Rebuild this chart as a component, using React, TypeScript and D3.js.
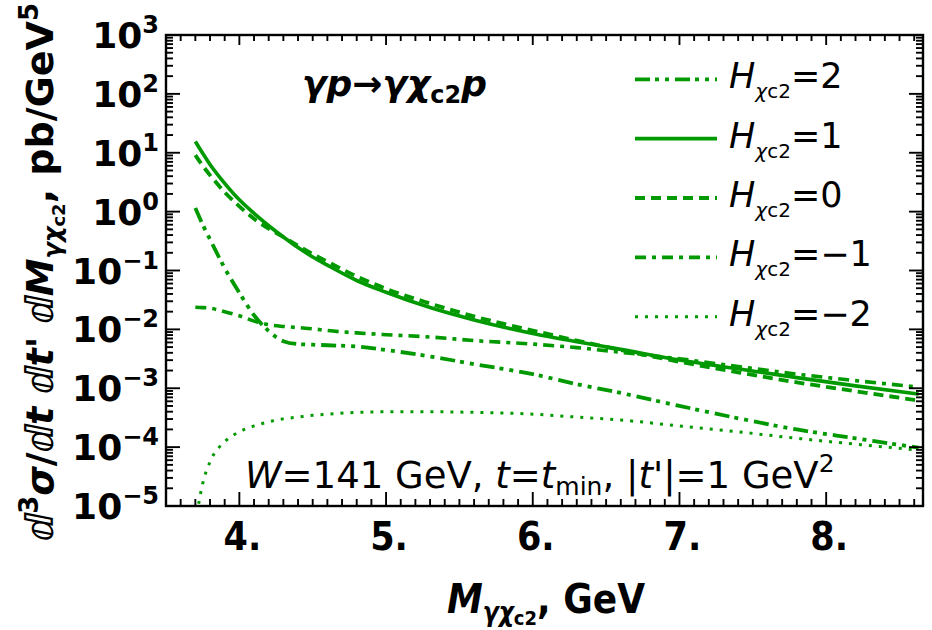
import React from 'react';
import * as d3 from 'd3';

// ---------- data ----------
const MASS = [3.7, 3.75, 3.8, 3.9, 4.0, 4.1, 4.2, 4.3, 4.4, 4.5, 4.6, 4.8, 5.0, 5.3, 5.6, 6.0, 6.3, 6.6, 7.0, 7.4, 7.8, 8.2, 8.63];
// log10 of d3sigma/dt dt' dM  (pb/GeV^5)
const LOG_H_P2 = [0.06, -0.22, -0.47, -0.96, -1.38, -1.76, -2.03, -2.2, -2.25, -2.26, -2.27, -2.29, -2.35, -2.46, -2.59, -2.76, -2.93, -3.08, -3.3, -3.51, -3.7, -3.85, -4.01];
const LOG_H_P1 = [1.19, 0.99, 0.8, 0.48, 0.2, -0.03, -0.24, -0.43, -0.61, -0.77, -0.91, -1.17, -1.37, -1.63, -1.84, -2.07, -2.21, -2.34, -2.52, -2.67, -2.82, -2.96, -3.1];
const LOG_H_0 = [0.96, 0.78, 0.62, 0.33, 0.09, -0.12, -0.29, -0.43, -0.58, -0.72, -0.85, -1.1, -1.31, -1.56, -1.78, -2.02, -2.19, -2.35, -2.55, -2.73, -2.9, -3.05, -3.21];
const LOG_H_M1 = [-1.625, -1.63, -1.64, -1.7, -1.77, -1.86, -1.92, -1.95, -1.97, -1.99, -2.02, -2.06, -2.09, -2.13, -2.19, -2.25, -2.31, -2.39, -2.5, -2.63, -2.76, -2.87, -2.98];
const LOG_H_M2 = [-5.3, -4.62, -4.25, -3.91, -3.74, -3.64, -3.57, -3.52, -3.49, -3.46, -3.44, -3.41, -3.4, -3.4, -3.41, -3.44, -3.49, -3.54, -3.64, -3.74, -3.85, -3.95, -4.05];

const HELICITY_LABELS = ['2', '1', '0', '\u22121', '\u22122'];
const X_TICKS = [4, 5, 6, 7, 8];
const X_TICK_LABELS = ['4.', '5.', '6.', '7.', '8.'];
const Y_EXPONENTS = [3, 2, 1, 0, -1, -2, -3, -4, -5];

// ---------- layout / style ----------
const W = 932, H = 630;
const L = 166, R = 923, T = 35, B = 506;
const GREEN = '#009900';
const DASHES = ['15 5 4 6 4 6', '', '10 6', '11 6 4 6', '3 7'];
const WIDTHS = [3.8, 3.6, 3.8, 3.6, 3];

export default function App() {
  const x = d3.scaleLinear().domain([3.5, 8.66]).range([L, R]);
  const y = d3.scaleLog().domain([1e-5, 1e3]).range([B, T]);

  const series = [LOG_H_P2, LOG_H_P1, LOG_H_0, LOG_H_M1, LOG_H_M2].map((arr) =>
    arr.map((v, i) => ({ m: MASS[i], s: Math.pow(10, v) }))
  );
  const line = d3
    .line<{ m: number; s: number }>()
    .x((d) => x(d.m))
    .y((d) => y(d.s))
    .curve(d3.curveMonotoneX);

  const xMinor: number[] = [];
  for (let i = 35; i <= 86; i++) xMinor.push(i / 10);
  const yMinor: number[] = [];
  for (let e = -5; e < 3; e++) for (let k = 2; k <= 9; k++) yMinor.push(k * Math.pow(10, e));

  const tickFont = 'DejaVu Sans, sans-serif';
  const condFont = "'DejaVu Sans Condensed', 'DejaVu Sans', sans-serif";

  const legendY = (i: number) => 79.3 + i * 59.35;

  return (
    <svg width={W} height={H} style={{ position: 'absolute', left: 0, top: 0, background: '#fff' }}>
      <defs>
        <clipPath id="plotclip">
          <rect x={L} y={T} width={R - L} height={B - T} />
        </clipPath>
      </defs>

      {/* curves */}
      <g clipPath="url(#plotclip)" fill="none" stroke={GREEN}>
        {series.map((s, i) => (
          <path
            key={i}
            d={line(s) || ''}
            strokeWidth={WIDTHS[i]}
            strokeDasharray={DASHES[i] || undefined}
          />
        ))}
      </g>

      {/* frame */}
      <rect x={L} y={T} width={R - L} height={B - T} fill="none" stroke="#000" strokeWidth={2.4} />

      {/* ticks */}
      <g stroke="#000" strokeWidth={1.9}>
        {xMinor.map((v, i) => {
          const major = Math.abs(v - Math.round(v)) < 1e-6;
          const px = x(v);
          return (
            <g key={i}>
              <line x1={px} x2={px} y1={B} y2={B - (major ? 14 : 7)} />
              <line x1={px} x2={px} y1={T} y2={T + (major ? 10 : 6)} />
            </g>
          );
        })}
        {Y_EXPONENTS.map((e) => {
          const py = y(Math.pow(10, e));
          return (
            <g key={'ym' + e}>
              <line x1={L} x2={L + 14} y1={py} y2={py} />
              <line x1={R} x2={R - 14} y1={py} y2={py} />
            </g>
          );
        })}
        {yMinor.map((v, i) => {
          const py = y(v);
          return (
            <g key={'yn' + i}>
              <line x1={L} x2={L + 7} y1={py} y2={py} />
              <line x1={R} x2={R - 7} y1={py} y2={py} />
            </g>
          );
        })}
      </g>

      {/* x tick labels */}
      <g fontFamily={condFont} fontWeight="bold" fontSize={39} textAnchor="middle" fill="#000">
        {X_TICKS.map((v, i) => (
          <text key={i} x={x(v) + 3} y={550}>
            {X_TICK_LABELS[i]}
          </text>
        ))}
      </g>

      {/* y tick labels */}
      <g fontFamily={tickFont} fontWeight="bold" fontSize={36} textAnchor="end" fill="#000">
        {Y_EXPONENTS.map((e) => (
          <text key={e} x={159} y={y(Math.pow(10, e)) + 13}>
            10
            <tspan fontSize={24} dy={-15}>
              {e < 0 ? '\u2212' + Math.abs(e) : String(e)}
            </tspan>
          </text>
        ))}
      </g>

      {/* x axis title */}
      <text x={546} y={613} textAnchor="middle" fontFamily={condFont} fontWeight="bold" fontSize={40} fill="#000">
        <tspan fontStyle="italic">M</tspan>
        <tspan fontSize={26} dy={8} fontStyle="italic">γχ</tspan>
        <tspan fontSize={20} dy={4}>c2</tspan>
        <tspan dy={-12}>, GeV</tspan>
      </text>

      {/* y axis title */}
      <text
        transform="translate(53,272) rotate(-90)"
        textAnchor="middle"
        fontFamily={tickFont}
        fontWeight="bold"
        fontSize={38}
        fill="#000"
      >
        <tspan fontStyle="italic">ⅆ</tspan>
        <tspan fontSize={26} dy={-15}>3</tspan>
        <tspan fontStyle="italic" dy={15}>σ</tspan>
        <tspan>/</tspan>
        <tspan fontStyle="italic">ⅆt</tspan>
        <tspan> </tspan>
        <tspan fontStyle="italic">ⅆt</tspan>
        <tspan>' </tspan>
        <tspan fontStyle="italic">ⅆM</tspan>
        <tspan fontSize={24} dy={8} fontStyle="italic">γχ</tspan>
        <tspan fontSize={18} dy={4}>c2</tspan>
        <tspan dy={-12}>, pb/GeV</tspan>
        <tspan fontSize={26} dy={-15}>5</tspan>
      </text>

      {/* reaction label */}
      <text x={302} y={96} fontFamily={tickFont} fontWeight="bold" fontStyle="italic" fontSize={36} fill="#000">
        γ<tspan>p</tspan>→γχ
        <tspan fontSize={24} dy={7} fontStyle="normal">c2</tspan>
        <tspan dy={-7}>p</tspan>
      </text>

      {/* legend */}
      {HELICITY_LABELS.map((lab, i) => (
        <g key={i}>
          <line
            x1={635}
            x2={717}
            y1={legendY(i)}
            y2={legendY(i)}
            stroke={GREEN}
            strokeWidth={WIDTHS[i]}
            strokeDasharray={DASHES[i] || undefined}
          />
          <text x={729} y={legendY(i) + 9} fontFamily={tickFont} fontSize={35} fill="#000">
            <tspan fontStyle="italic">H</tspan>
            <tspan fontSize={20} dy={10} fontStyle="italic">χ</tspan>
            <tspan fontSize={20}>c2</tspan>
            <tspan dy={-10}>={lab}</tspan>
          </text>
        </g>
      ))}

      {/* kinematics annotation */}
      <text x={245} y={488} fontFamily={tickFont} fontSize={37} fill="#000">
        <tspan fontStyle="italic">W</tspan>=141 GeV, <tspan fontStyle="italic">t</tspan>=<tspan fontStyle="italic">t</tspan>
        <tspan fontSize={25} dy={7}>min</tspan>
        <tspan dy={-7}>, |</tspan>
        <tspan fontStyle="italic">t</tspan>'|=1 GeV
        <tspan fontSize={25} dy={-16}>2</tspan>
      </text>
    </svg>
  );
}
